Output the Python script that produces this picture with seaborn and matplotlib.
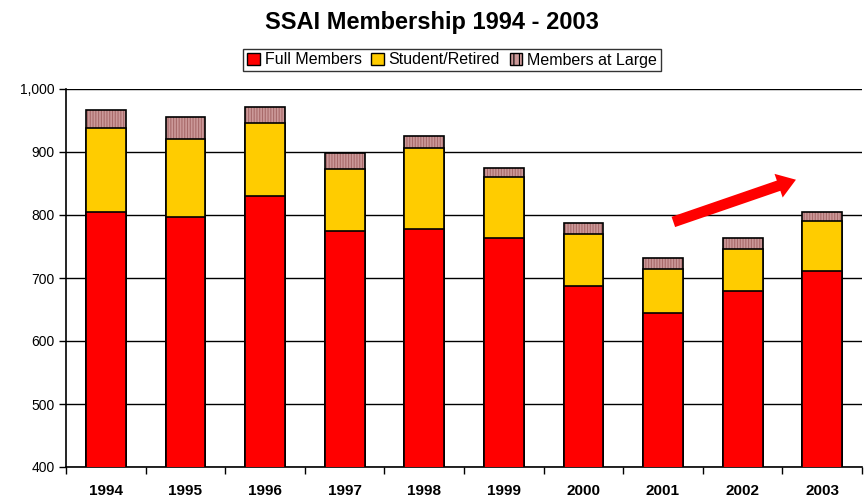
import matplotlib
matplotlib.use("Agg")
import matplotlib.pyplot as plt
import matplotlib.ticker as mticker
from matplotlib.patches import Patch
import numpy as np
import pandas as pd
import seaborn as sns

years = ["1994", "1995", "1996", "1997", "1998", "1999", "2000", "2001", "2002", "2003"]
full_members = [805, 797, 830, 775, 778, 763, 687, 644, 679, 711]
student_retired = [133, 124, 116, 98, 129, 98, 83, 71, 67, 79]
members_at_large = [28, 35, 25, 25, 19, 13, 18, 17, 17, 14]
series_names = ["Full Members", "Student/Retired", "Members at Large"]
title = "SSAI Membership 1994 - 2003"

sns.set_theme(style="white")
plt.rcParams["font.family"] = ["Liberation Sans", "DejaVu Sans"]
plt.rcParams["text.color"] = "black"
plt.rcParams["xtick.color"] = "black"
plt.rcParams["ytick.color"] = "black"
plt.rcParams["hatch.linewidth"] = 0.8

full = np.array(full_members)
stud_top = full + np.array(student_retired)
total = stud_top + np.array(members_at_large)
df = pd.DataFrame({"year": years, "full": full, "stud": stud_top, "total": total})

fig = plt.figure(figsize=(8.64, 5.0), dpi=100)
ax = fig.add_axes([66 / 864, 33 / 500, 796 / 864, 378 / 500])

red = "#FF0000"
yellow = "#FFCC00"
pink = "#CC9999"
stripe = "#A86A6A"

# Members at large (total) with stripe hatch
sns.barplot(data=df, x="year", y="total", color=pink, saturation=1, width=0.5,
            edgecolor=stripe, linewidth=0, hatch="||||||", ax=ax, zorder=3)
sns.barplot(data=df, x="year", y="total", color="none", saturation=1, width=0.5,
            edgecolor="black", linewidth=1.2, ax=ax, zorder=4, fill=False)
sns.barplot(data=df, x="year", y="stud", color=yellow, saturation=1, width=0.5,
            edgecolor="black", linewidth=1.2, ax=ax, zorder=5)
sns.barplot(data=df, x="year", y="full", color=red, saturation=1, width=0.5,
            edgecolor="black", linewidth=1.2, ax=ax, zorder=6)

ax.set_ylim(400, 1000)
ax.set_xlim(-0.5, len(years) - 0.5)
ax.set_xlabel("")
ax.set_ylabel("")
ax.yaxis.set_major_locator(mticker.MultipleLocator(100))
ax.yaxis.set_major_formatter(mticker.FuncFormatter(lambda v, p: f"{int(v):,}"))
ax.yaxis.grid(True, color="black", linewidth=1.0, zorder=0)
ax.set_axisbelow(True)

for s in ["top", "right"]:
    ax.spines[s].set_visible(False)
for s in ["left", "bottom"]:
    ax.spines[s].set_color("black")
    ax.spines[s].set_linewidth(1.2)

ax.tick_params(axis="y", which="major", left=True, length=5, width=1, color="black",
               labelsize=10, pad=3, labelcolor="black")
ax.tick_params(axis="x", which="major", bottom=False, labelsize=11, pad=6, labelcolor="black")
ax.set_xticks(np.arange(-0.5, len(years), 1.0), minor=True)
ax.tick_params(axis="x", which="minor", bottom=True, length=5, width=1, color="black")
for lbl in ax.get_xticklabels():
    lbl.set_fontweight("bold")

# Trend arrow
ax.annotate("", xy=(8.67, 856), xytext=(7.13, 789),
            arrowprops=dict(arrowstyle="simple,head_length=1.1,head_width=1.5,tail_width=0.65",
                            color=red, lw=0, shrinkA=0, shrinkB=0), zorder=7)

fig.suptitle(title, x=0.5, y=0.978, fontsize=17, fontweight="bold", va="top")

handles = [Patch(facecolor=red, edgecolor="black", linewidth=1),
           Patch(facecolor=yellow, edgecolor="black", linewidth=1),
           Patch(facecolor=pink, edgecolor="black", linewidth=1, hatch="|||")]
leg = fig.legend(handles, series_names, loc="center", bbox_to_anchor=(452 / 864, 1 - 60 / 500),
                 ncol=3, frameon=True, fancybox=False, fontsize=11.5, handlelength=0.8,
                 handleheight=0.8, handletextpad=0.3, columnspacing=0.6, borderpad=0.25,
                 edgecolor="black")
leg.get_frame().set_linewidth(1.0)

fig.savefig("out.png", dpi=100, facecolor="white")
